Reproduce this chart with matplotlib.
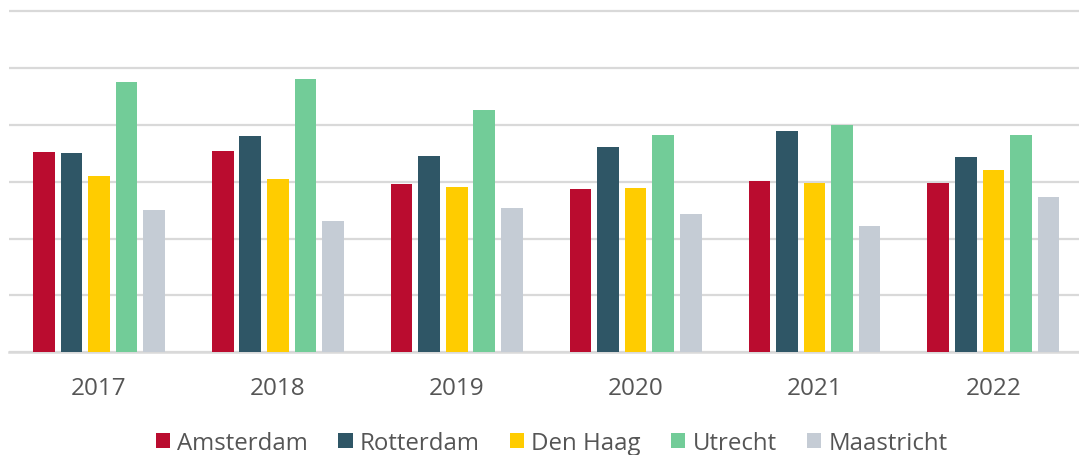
"""Grouped bar chart: yearly index per city (2017-2022)."""

import matplotlib

matplotlib.use("Agg")
import matplotlib.pyplot as plt
import numpy as np
from matplotlib.patches import Patch

YEARS = ["2017", "2018", "2019", "2020", "2021", "2022"]
CITIES = ["Amsterdam", "Rotterdam", "Den Haag", "Utrecht", "Maastricht"]

# values (one gridline = 1 unit, no axis labels shown)
AMSTERDAM = [3.52, 3.54, 2.97, 2.87, 3.01, 2.98]
ROTTERDAM = [3.50, 3.81, 3.45, 3.61, 3.89, 3.43]
DEN_HAAG = [3.10, 3.05, 2.90, 2.89, 2.98, 3.20]
UTRECHT = [4.75, 4.81, 4.26, 3.83, 4.00, 3.82]
MAASTRICHT = [2.50, 2.31, 2.54, 2.43, 2.22, 2.73]

SERIES = [AMSTERDAM, ROTTERDAM, DEN_HAAG, UTRECHT, MAASTRICHT]
COLORS = ["#BA0C2F", "#2F5666", "#FFCC00", "#72CC98", "#C5CCD5"]

GRID_COLOR = "#D9D9D9"
TEXT_COLOR = "#555555"
FONT = "Open Sans"


def main() -> None:
    plt.rcParams["font.family"] = [FONT, "DejaVu Sans"]

    fig = plt.figure(figsize=(10.79, 4.56), dpi=100)
    # axes placed in pixels: y=0 at ~353 px from top, one unit = 56.8 px
    unit_h = 56.83 / 456
    bottom = (456 - 353.3) / 456
    top_val = 6.05
    ax = fig.add_axes([9.45 / 1079, bottom, 1073.4 / 1079, unit_h * top_val])

    x = np.arange(len(YEARS))
    bar_w = 0.121
    step = 0.154
    offsets = (np.arange(len(CITIES)) - (len(CITIES) - 1) / 2) * step

    for values, color, off in zip(SERIES, COLORS, offsets):
        ax.bar(x + off, values, width=bar_w, color=color, zorder=3, linewidth=0)

    ax.set_xlim(-0.5, len(YEARS) - 0.5)
    ax.set_ylim(0, top_val)
    ax.set_yticks(np.arange(0, 7))
    ax.yaxis.grid(True, color=GRID_COLOR, linewidth=1.6, zorder=0)
    ax.tick_params(axis="y", left=False, labelleft=False)
    ax.set_xticks(x)
    ax.set_xticklabels(YEARS, fontsize=17.5, color=TEXT_COLOR)
    ax.tick_params(axis="x", length=0, pad=17)
    for side in ["left", "right", "top"]:
        ax.spines[side].set_visible(False)
    ax.spines["bottom"].set_color(GRID_COLOR)
    ax.spines["bottom"].set_linewidth(1.8)

    handles = [Patch(facecolor=c, edgecolor="none") for c in COLORS]
    leg = fig.legend(
        handles,
        CITIES,
        loc="center",
        bbox_to_anchor=(551.5 / 1079, 12 / 456),
        ncol=len(CITIES),
        frameon=False,
        fontsize=17.3,
        handlelength=0.6,
        handleheight=0.6,
        handletextpad=0.3,
        columnspacing=1.25,
        borderpad=0,
    )
    for text in leg.get_texts():
        text.set_color(TEXT_COLOR)

    fig.savefig("out.png", dpi=100)
    plt.close(fig)


if __name__ == "__main__":
    main()
